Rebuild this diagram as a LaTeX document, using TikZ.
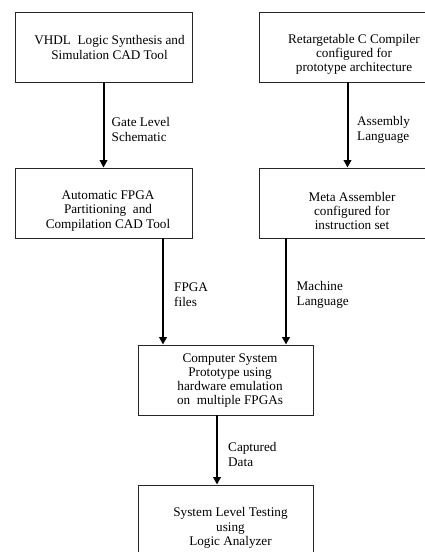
\documentclass[tikz,border=0pt]{standalone}
\usepackage{fontspec}
\setmainfont{Liberation Serif}
\usetikzlibrary{arrows.meta}
\begin{document}
\begin{tikzpicture}[x=1pt,y=-1pt,
  boxstyle/.style={draw=black!85,line width=0.9pt,minimum width=177pt,minimum height=70pt,inner sep=0pt},
  boxtext/.style={align=center,font=\fontsize{13.2}{14.3}\selectfont,inner sep=0pt},
  flowlabel/.style={align=left,anchor=west,font=\fontsize{13.2}{15.3}\selectfont,inner sep=0pt},
  flow/.style={line width=2pt,-{Triangle[width=7.5pt,length=7.5pt]}}]
\useasboundingbox (0,0) rectangle (425,552);
\clip (0,0) rectangle (425,552);
% boxes
\node[boxstyle] (b1) at (103.5,47) {};
\node[boxstyle] (b2) at (347.5,47) {};
\node[boxstyle] (b3) at (103.5,203) {};
\node[boxstyle] (b4) at (347.5,203) {};
\node[boxstyle,minimum width=175pt] (b5) at (225.5,380) {};
\node[boxstyle,minimum width=175pt] (b6) at (225.5,520) {};
% box texts
\node[boxtext] (t1) at (109.5,47.5) {VHDL\ \ Logic Synthesis and\\Simulation CAD Tool};
\node[boxtext] (t2) at (354,54.5) {Retargetable C Compiler\\configured for\\prototype architecture};
\node[boxtext] (t3) at (108,211) {Automatic FPGA\\Partitioning\ \ and\\Compilation CAD Tool};
\node[boxtext] (t4) at (352,211) {Meta Assembler\\configured for\\instruction set};
\node[boxtext] (t5) at (230,380.5) {Computer System\\Prototype using\\hardware emulation\\on\ \ multiple FPGAs};
\node[boxtext] (t6) at (230.5,528) {System Level Testing\\using\\Logic Analyzer};
% arrows
\draw[flow] (b1.south) -- (b3.north);
\draw[flow] (b2.south) -- (b4.north);
\draw[flow] (b3.south -| 163,0) -- (b5.north -| 163,0);
\draw[flow] (b4.south -| 286,0) -- (b5.north -| 286,0);
\draw[flow] (b5.south -| 217,0) -- (b6.north -| 217,0);
% labels
\node[flowlabel] (l1) at (111.5,129.5) {Gate Level\\Schematic};
\node[flowlabel] (l2) at (357,129.5) {Assembly\\Language};
\node[flowlabel] (l3) at (174,295) {FPGA\\files};
\node[flowlabel] (l4) at (296.5,295) {Machine\\Language};
\node[flowlabel] (l5) at (228,454.5) {Captured\\Data};
\end{tikzpicture}
\end{document}
